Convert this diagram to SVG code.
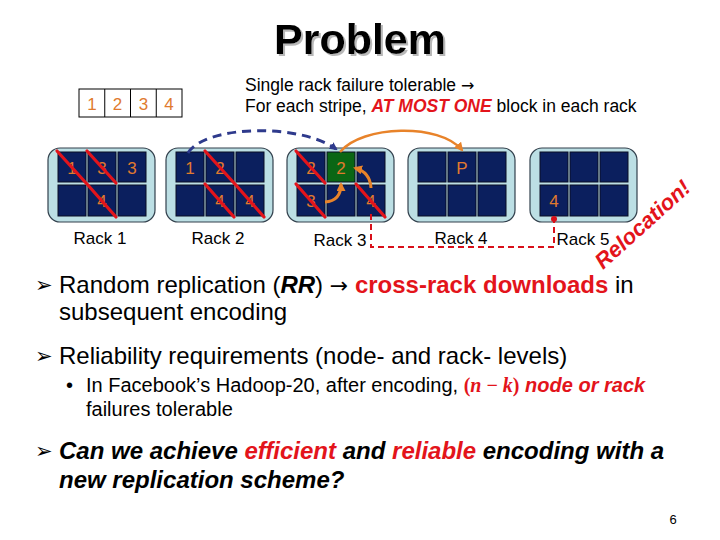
<svg xmlns="http://www.w3.org/2000/svg" width="720" height="540" viewBox="0 0 720 540">
<defs>
<style>
.t{font-family:"Liberation Sans",Arial,sans-serif;fill:#000}
.rack{fill:#bcdfe4;stroke:#33414d;stroke-width:1.2}
.cell{fill:#0b1f5e;stroke:#0a0f25;stroke-width:1}
.green{fill:#0b6614;stroke:#0a0f25;stroke-width:1}
.num{font-family:"Liberation Sans",Arial,sans-serif;font-size:17px;fill:#e07a2e;text-anchor:middle}
.x{stroke:#e3141b;stroke-width:3.2;stroke-linecap:round}
.lbl{font-family:"Liberation Sans",Arial,sans-serif;font-size:17px;fill:#000;text-anchor:middle}
.red{fill:#e3141b}
.bi{font-weight:bold;font-style:italic}
.b{font-weight:bold}
.arr{font-family:"DejaVu Sans",sans-serif}
.blt{font-family:"DejaVu Sans",sans-serif;font-size:21px;fill:#000}
</style>
<filter id="shadow" x="-10%" y="-10%" width="130%" height="140%">
<feDropShadow dx="2" dy="2" stdDeviation="0.6" flood-color="#b0b0b0" flood-opacity="0.9"/>
</filter>
<marker id="ahN" markerWidth="8" markerHeight="8" refX="6" refY="4" orient="auto" markerUnits="userSpaceOnUse" viewBox="0 0 8 8"><path d="M0,0 L8,4 L0,8 z" fill="#2e3a8c"/></marker>
<marker id="ahO" markerWidth="9" markerHeight="9" refX="7" refY="4.5" orient="auto" markerUnits="userSpaceOnUse" viewBox="0 0 9 9"><path d="M0,0 L9,4.5 L0,9 z" fill="#e8832a"/></marker>
</defs>
<rect width="720" height="540" fill="#fff"/>

<g id="title">
<text x="360" y="54" class="t b" font-size="43" text-anchor="middle" filter="url(#shadow)">Problem</text>
</g>

<g id="note">
<text x="245" y="91" class="t" font-size="17.5">Single rack failure tolerable <tspan class="arr" font-size="16">→</tspan></text>
<text x="245" y="112" class="t" font-size="17.5">For each stripe, <tspan class="red bi">AT MOST ONE</tspan> block in each rack</text>
</g>

<g id="stripe">
<rect x="79" y="89" width="103" height="28" fill="#fff" stroke="#000" stroke-width="1"/>
<line x1="104.75" y1="89" x2="104.75" y2="117" stroke="#000"/>
<line x1="130.5" y1="89" x2="130.5" y2="117" stroke="#000"/>
<line x1="156.25" y1="89" x2="156.25" y2="117" stroke="#000"/>
<text x="92" y="110" class="num">1</text>
<text x="117.6" y="110" class="num">2</text>
<text x="143.4" y="110" class="num">3</text>
<text x="169.1" y="110" class="num">4</text>
</g>

<g id="rack1">
<rect x="48" y="148" width="107" height="74" rx="12" class="rack"/>
<rect x="58" y="152" width="28" height="30" class="cell"/>
<rect x="88" y="152" width="28" height="30" class="cell"/>
<rect x="118" y="152" width="28" height="30" class="cell"/>
<rect x="58" y="185" width="28" height="31" class="cell"/>
<rect x="88" y="185" width="28" height="31" class="cell"/>
<rect x="118" y="185" width="28" height="31" class="cell"/>
<text x="72" y="174" class="num">1</text>
<text x="102" y="174" class="num">3</text>
<text x="132" y="174" class="num">3</text>
<text x="102" y="207" class="num">4</text>
<line x1="57" y1="151" x2="86" y2="183" class="x"/>
<line x1="87" y1="151" x2="116" y2="183" class="x"/>
<line x1="87" y1="184" x2="116" y2="217" class="x"/>
<text x="100" y="244" class="lbl">Rack 1</text>
</g>

<g id="rack2">
<rect x="166" y="148" width="107" height="74" rx="12" class="rack"/>
<rect x="176" y="152" width="28" height="30" class="cell"/>
<rect x="206" y="152" width="28" height="30" class="cell"/>
<rect x="236" y="152" width="28" height="30" class="cell"/>
<rect x="176" y="185" width="28" height="31" class="cell"/>
<rect x="206" y="185" width="28" height="31" class="cell"/>
<rect x="236" y="185" width="28" height="31" class="cell"/>
<text x="190" y="174" class="num">1</text>
<text x="220" y="174" class="num">2</text>
<text x="220" y="207" class="num">4</text>
<text x="250" y="207" class="num">4</text>
<line x1="205" y1="151" x2="234" y2="183" class="x"/>
<line x1="205" y1="184" x2="234" y2="217" class="x"/>
<line x1="235" y1="184" x2="264" y2="217" class="x"/>
<text x="218" y="244" class="lbl">Rack 2</text>
</g>

<g id="rack3">
<rect x="287" y="148" width="107" height="74" rx="12" class="rack"/>
<rect x="297" y="152" width="28" height="30" class="cell"/>
<rect x="327" y="152" width="28" height="30" class="green"/>
<rect x="357" y="152" width="28" height="30" class="cell"/>
<rect x="297" y="185" width="28" height="31" class="cell"/>
<rect x="327" y="185" width="28" height="31" class="cell"/>
<rect x="357" y="185" width="28" height="31" class="cell"/>
<text x="311" y="174" class="num">2</text>
<text x="341" y="174" class="num">2</text>
<text x="311" y="207" class="num">3</text>
<text x="371" y="207" class="num">4</text>
<line x1="296" y1="151" x2="325" y2="183" class="x"/>
<line x1="296" y1="184" x2="325" y2="217" class="x"/>
<line x1="356" y1="184" x2="385" y2="217" class="x"/>
<text x="340" y="246" class="lbl">Rack 3</text>
</g>

<g id="rack4">
<rect x="408" y="148" width="107" height="74" rx="12" class="rack"/>
<rect x="418" y="152" width="28" height="30" class="cell"/>
<rect x="448" y="152" width="28" height="30" class="cell"/>
<rect x="478" y="152" width="28" height="30" class="cell"/>
<rect x="418" y="185" width="28" height="31" class="cell"/>
<rect x="448" y="185" width="28" height="31" class="cell"/>
<rect x="478" y="185" width="28" height="31" class="cell"/>
<text x="462" y="174" class="num">P</text>
<text x="461" y="244" class="lbl">Rack 4</text>
</g>

<g id="rack5">
<rect x="530" y="148" width="107" height="74" rx="12" class="rack"/>
<rect x="540" y="152" width="28" height="30" class="cell"/>
<rect x="570" y="152" width="28" height="30" class="cell"/>
<rect x="600" y="152" width="28" height="30" class="cell"/>
<rect x="540" y="185" width="28" height="31" class="cell"/>
<rect x="570" y="185" width="28" height="31" class="cell"/>
<rect x="600" y="185" width="28" height="31" class="cell"/>
<text x="554" y="207" class="num">4</text>
<text x="583" y="245" class="lbl">Rack 5</text>
</g>

<g id="connectors" fill="none">
<path d="M188,153 C205,125 300,123 336,149" stroke="#2e3a8c" stroke-width="3" stroke-dasharray="9,6" marker-end="url(#ahN)"/>
<path d="M340,152 C362,125 440,123 462,150" stroke="#e8832a" stroke-width="2.5" marker-end="url(#ahO)"/>
<path d="M325,202 Q341,201 341,184" stroke="#e8832a" stroke-width="3" marker-end="url(#ahO)"/>
<path d="M371,188 Q370,172 355,168" stroke="#e8832a" stroke-width="3" marker-end="url(#ahO)"/>
<path d="M371,214 L371,247 L554,247 L554,220" stroke="#d8101a" stroke-width="2" stroke-dasharray="6,4"/>
<circle cx="554" cy="219" r="3" fill="#d8101a"/>
</g>

<g id="relocation">
<text transform="translate(603,270) rotate(-42)" class="t bi red" font-size="22" style="fill:#e3141b">Relocation!</text>
</g>

<g id="bullets">
<text x="35" y="292" class="blt">➢</text>
<text x="59" y="293" class="t" font-size="24">Random replication (<tspan class="bi">RR</tspan>) <tspan class="arr" font-size="22">→</tspan> <tspan class="b red">cross-rack downloads</tspan> in</text>
<text x="59" y="320" class="t" font-size="24">subsequent encoding</text>
<text x="35" y="363" class="blt">➢</text>
<text x="59" y="364" class="t" font-size="24">Reliability requirements (node- and rack- levels)</text>
<text x="66" y="392" class="t" font-size="20">•</text>
<text x="86" y="392" class="t" font-size="20">In Facebook’s Hadoop-20, after encoding, <tspan class="red b" font-family="Liberation Serif,serif">(<tspan font-style="italic">n</tspan> − <tspan font-style="italic">k</tspan>)</tspan> <tspan class="red bi">node or rack</tspan></text>
<text x="86" y="416" class="t" font-size="20">failures tolerable</text>
<text x="35" y="458" class="blt">➢</text>
<text x="59" y="459" class="t bi" font-size="24">Can we achieve <tspan class="red">efficient</tspan> and <tspan class="red">reliable</tspan> encoding with a</text>
<text x="59" y="488" class="t bi" font-size="24">new replication scheme?</text>
</g>

<text x="673" y="524" class="t" font-size="13" text-anchor="middle">6</text>
</svg>
